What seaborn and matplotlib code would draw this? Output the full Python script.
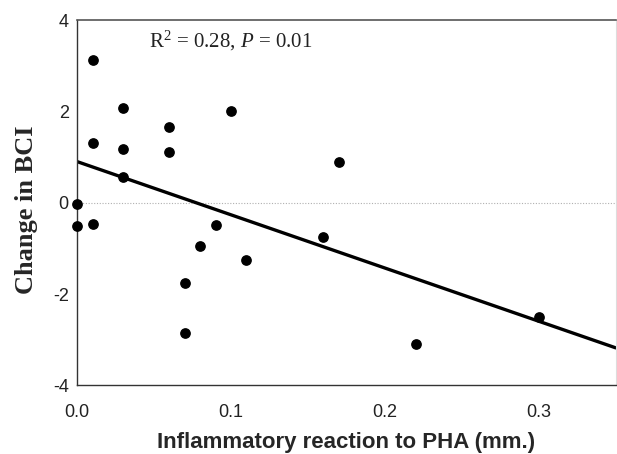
import numpy as np
import pandas as pd
import seaborn as sns
import matplotlib.pyplot as plt

# values
pha = [0.0, 0.0, 0.01, 0.01, 0.01, 0.03, 0.03, 0.03, 0.06, 0.06,
       0.10, 0.09, 0.08, 0.11, 0.07, 0.07, 0.17, 0.16, 0.22, 0.30]
bci = [-0.03, -0.50, 3.13, 1.32, -0.47, 2.07, 1.18, 0.56, 1.67, 1.12,
       2.02, -0.49, -0.94, -1.26, -1.75, -2.86, 0.90, -0.74, -3.10, -2.49]
x_ticks = [0.0, 0.1, 0.2, 0.3]
y_ticks = [-4, -2, 0, 2, 4]

df = pd.DataFrame({'PHA': pha, 'BCI': bci})

sns.set_style("white")
plt.rcParams['font.family'] = ['Liberation Sans', 'DejaVu Sans']
plt.rcParams['mathtext.fontset'] = 'custom'
plt.rcParams['mathtext.rm'] = 'Liberation Serif'
plt.rcParams['mathtext.it'] = 'Liberation Serif:italic'

fig = plt.figure(figsize=(6.17, 4.54), dpi=100)
ax = fig.add_axes([0.125, 0.151, 0.873, 0.804])
ax.set_xlim(0, 0.35)
ax.set_ylim(-4, 4)

# zero reference line
ax.axhline(0, color='#b0b0b0', lw=0.8, ls=(0, (1, 1.5)), zorder=0)

sns.regplot(data=df, x='PHA', y='BCI', ax=ax, ci=None, truncate=False,
            color='black',
            scatter_kws={'s': 45, 'alpha': 1, 'clip_on': False, 'zorder': 3},
            line_kws={'color': 'black', 'lw': 2.4})

ax.set_xlim(0, 0.35)
ax.set_ylim(-4, 4)
ax.set_xticks(x_ticks)
ax.set_xticklabels([f'{t:.1f}' for t in x_ticks])
ax.set_yticks(y_ticks)
ax.set_yticklabels([str(t) for t in y_ticks])
ax.tick_params(length=0, labelsize=13, colors='#222222')
ax.tick_params(axis='x', pad=13)
ax.tick_params(axis='y', pad=6)

ax.set_xlabel('Inflammatory reaction to PHA (mm.)', fontsize=16,
              fontweight='bold', labelpad=8)
ax.set_ylabel('Change in BCI', fontsize=19, fontweight='bold',
              family='Liberation Serif')
ax.yaxis.set_label_coords(-0.072, 0.48)

ax.text(0.1, 3.55, r'R$^2$ = 0.28, $P$ = 0.01', ha='center', va='center',
        fontsize=15, family='Liberation Serif', color='#222222')

for side in ['left', 'bottom']:
    ax.spines[side].set_color('#333333')
    ax.spines[side].set_linewidth(1.0)
ax.spines['top'].set_color('#555555')
ax.spines['top'].set_linewidth(1.2)
ax.spines['right'].set_color('#dddddd')
ax.spines['right'].set_linewidth(0.8)

fig.savefig('out.png', dpi=100)
